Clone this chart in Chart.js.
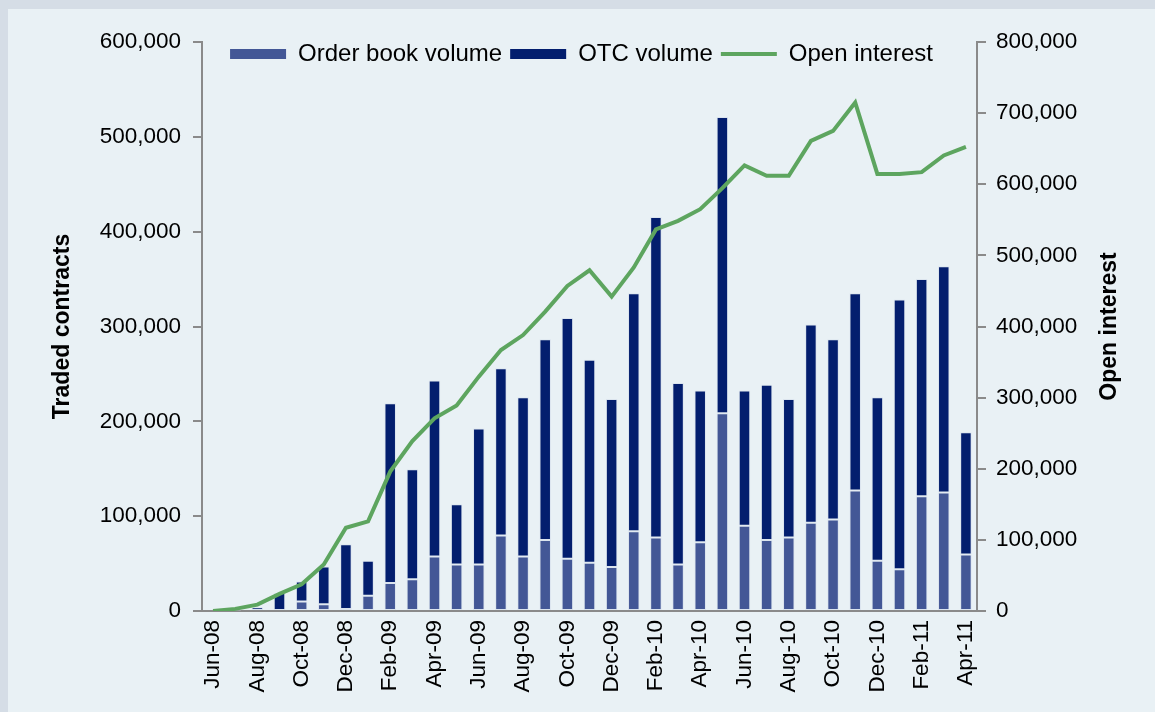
<!DOCTYPE html>
<html>
<head>
<meta charset="utf-8">
<script src="https://cdn.jsdelivr.net/npm/chart.js@4"></script>
<style>
  body { margin: 0; background: #d5dde6; }
  #panel { position: absolute; left: 8px; top: 9px; width: 1147px; height: 703px; background: #e9f1f5; }
  #wrap { position: absolute; left: 0; top: 0; width: 1155px; height: 712px; }
</style>
</head>
<body>
<div id="panel"></div>
<div id="wrap"><canvas id="volChart"></canvas></div>
<script>
// months shown on the x axis (only every other one gets a label)
const months = ['Jun-08', 'Jul-08', 'Aug-08', 'Sep-08', 'Oct-08', 'Nov-08', 'Dec-08',
  'Jan-09', 'Feb-09', 'Mar-09', 'Apr-09', 'May-09', 'Jun-09', 'Jul-09', 'Aug-09', 'Sep-09', 'Oct-09', 'Nov-09', 'Dec-09',
  'Jan-10', 'Feb-10', 'Mar-10', 'Apr-10', 'May-10', 'Jun-10', 'Jul-10', 'Aug-10', 'Sep-10', 'Oct-10', 'Nov-10', 'Dec-10',
  'Jan-11', 'Feb-11', 'Mar-11', 'Apr-11'];

const orderBookVolume = [0, 0, 1000, 1000, 10000, 7000, 2000,
  16000, 29500, 33500, 57500, 49000, 49000, 79500, 57500, 75000, 55000, 51000, 46500,
  84000, 77500, 49000, 72500, 208500, 90000, 75000, 77500, 93000, 96500, 127000, 53000,
  44000, 121000, 125000, 59500];

const otcVolume = [0, 500, 3000, 18000, 21000, 40000, 68500,
  37000, 189500, 116000, 185500, 63500, 143500, 176500, 168000, 211500, 254000, 214000, 177000,
  251000, 338000, 191500, 160000, 312500, 142500, 163500, 146000, 209000, 190000, 208000, 172500,
  284500, 229000, 238500, 129000];

const openInterest = [0, 3000, 9000, 24000, 37500, 65500, 117000,
  126000, 196000, 239000, 271000, 289000, 329500, 367000, 388000, 421000, 457000, 479000, 442000,
  483000, 536500, 548500, 565000, 594500, 626500, 612000, 612000, 661000, 675000, 715000, 614500,
  614500, 617000, 640500, 652500];

const leftTicks = [0, 100000, 200000, 300000, 400000, 500000, 600000];
const rightTicks = [0, 100000, 200000, 300000, 400000, 500000, 600000, 700000, 800000];

const axisGrey = '#8a8a8a';
const fontFamily = "'Liberation Sans', Arial, sans-serif";
Chart.defaults.font.family = fontFamily;
Chart.defaults.color = '#000';

const fmt = v => Number(v).toLocaleString('en-US');

// legend is drawn inside the plot, over the top of the bars area
const legendNudge = {
  id: 'legendNudge',
  afterLayout(chart) {
    const lg = chart.legend;
    if (!lg) return;
    const h = lg.bottom - lg.top;
    lg.top = 34;
    lg.bottom = lg.top + h;
    lg.left += 4;
    lg.right += 4;
  }
};

// right axis title reads bottom-up like the left one
const rightTitle = {
  id: 'rightTitle',
  afterDraw(chart) {
    const ctx = chart.ctx;
    const area = chart.chartArea;
    ctx.save();
    ctx.translate(1110, (area.top + area.bottom) / 2);
    ctx.rotate(-Math.PI / 2);
    ctx.font = 'bold 23px ' + fontFamily;
    ctx.fillStyle = '#000';
    ctx.textAlign = 'center';
    ctx.textBaseline = 'middle';
    ctx.fillText('Open interest', 0, 0);
    ctx.restore();
  }
};

const ctx = document.getElementById('volChart').getContext('2d');

const chart = new Chart(ctx, {
  type: 'bar',
  data: {
    labels: months,
    datasets: [
      {
        label: 'Order book volume',
        data: orderBookVolume,
        backgroundColor: '#435796',
        borderColor: '#dbe4ee',
        borderWidth: 1,
        borderSkipped: false,
        yAxisID: 'y',
        order: 1
      },
      {
        label: 'OTC volume',
        data: otcVolume,
        backgroundColor: '#031e6e',
        borderColor: '#dbe4ee',
        borderWidth: 1,
        borderSkipped: false,
        yAxisID: 'y',
        order: 1
      },
      {
        type: 'line',
        label: 'Open interest',
        data: openInterest,
        borderColor: '#5da55f',
        backgroundColor: '#5da55f',
        borderWidth: 4,
        pointRadius: 0,
        tension: 0,
        yAxisID: 'y1',
        order: 0
      }
    ]
  },
  options: {
    responsive: true,
    maintainAspectRatio: false,
    animation: false,
    datasets: {
      bar: { barPercentage: 0.52, categoryPercentage: 1 }
    },
    layout: { padding: { top: 0, left: 0, right: 0, bottom: 0 } },
    plugins: {
      tooltip: { enabled: false },
      legend: {
        position: 'top',
        align: 'center',
        labels: {
          font: { size: 24 },
          color: '#000',
          usePointStyle: true,
          pointStyleWidth: 56,
          boxHeight: 10,
          padding: 8,
          generateLabels(chart) {
            return chart.data.datasets.map((ds, i) => ({
              text: ds.label,
              datasetIndex: i,
              fillStyle: ds.backgroundColor,
              strokeStyle: ds.type === 'line' ? ds.borderColor : ds.backgroundColor,
              lineWidth: ds.type === 'line' ? 4 : 0,
              pointStyle: ds.type === 'line' ? 'line' : 'rect',
              hidden: false
            }));
          }
        }
      }
    },
    scales: {
      x: {
        stacked: true,
        offset: true,
        grid: { display: false, drawTicks: false },
        border: { display: true, color: axisGrey, width: 2 },
        ticks: {
          autoSkip: false,
          minRotation: 90,
          maxRotation: 90,
          padding: 9,
          font: { size: 22.5 },
          callback: (v, i) => (i % 2 === 0 ? months[i] : '')
        },
        afterFit(scale) { scale.height = 101; }
      },
      y: {
        position: 'left',
        stacked: true,
        min: 0,
        max: 600000,
        afterBuildTicks(scale) { scale.ticks = leftTicks.map(v => ({ value: v })); },
        grid: { drawOnChartArea: false, drawTicks: true, tickLength: 9, color: axisGrey, lineWidth: 2 },
        border: { display: true, color: axisGrey, width: 2 },
        ticks: { padding: 12, font: { size: 22.5 }, callback: v => fmt(v) },
        title: {
          display: true,
          text: 'Traded contracts',
          font: { size: 23, weight: 'bold' },
          padding: { top: 49, bottom: 0 }
        },
        afterFit(scale) { scale.width = 202; }
      },
      y1: {
        position: 'right',
        min: 0,
        max: 800000,
        afterBuildTicks(scale) { scale.ticks = rightTicks.map(v => ({ value: v })); },
        grid: { drawOnChartArea: false, drawTicks: true, tickLength: 9, color: axisGrey, lineWidth: 2 },
        border: { display: true, color: axisGrey, width: 2 },
        ticks: { padding: 10, font: { size: 22.5 }, callback: v => fmt(v) },
        afterFit(scale) { scale.width = 178; }
      }
    }
  },
  plugins: [legendNudge, rightTitle]
});

// pull the plot top to y=42 no matter how tall the legend box came out
chart.options.layout.padding.top += 42 - chart.chartArea.top;
chart.update();
</script>
</body>
</html>
